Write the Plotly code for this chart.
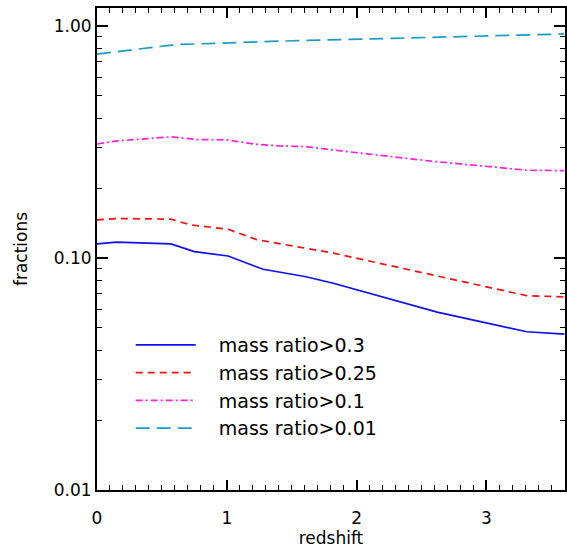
import plotly.graph_objects as go

# redshift / fraction values
z_03 = [0.0, 0.15, 0.57, 0.75, 1.01, 1.28, 1.61, 1.82, 2.62, 3.31, 3.6]
f_03 = [0.115, 0.117, 0.115, 0.1065, 0.102, 0.0894, 0.083, 0.0778, 0.0584, 0.0481, 0.047]

z_025 = [0.0, 0.15, 0.57, 0.72, 1.01, 1.23, 1.82, 2.62, 3.31, 3.6]
f_025 = [0.146, 0.148, 0.147, 0.139, 0.133, 0.120, 0.105, 0.0836, 0.0688, 0.068]

z_01 = [0.0, 0.14, 0.57, 0.77, 1.0, 1.21, 1.41, 1.61, 1.8, 2.56, 3.31, 3.6]
f_01 = [0.310, 0.319, 0.333, 0.324, 0.323, 0.310, 0.304, 0.302, 0.293, 0.262, 0.239, 0.238]

z_001 = [0.0, 0.31, 0.6, 0.9, 1.51, 2.28, 3.04, 3.6]
f_001 = [0.757, 0.794, 0.831, 0.842, 0.864, 0.885, 0.909, 0.924]

series = [
    ("mass ratio>0.3", z_03, f_03, "#1010f0", "solid"),
    ("mass ratio>0.25", z_025, f_025, "#ff1010", "7px,5px"),
    ("mass ratio>0.1", z_01, f_01, "#ff20e0", "7px,3px,2px,3px"),
    ("mass ratio>0.01", z_001, f_001, "#1a9cc4", "14px,7px"),
]

FONT = "DejaVu Sans"
PAD = "\u00a0\u00a0\u00a0"
fig = go.Figure()
for name, x, y, c, d in series:
    fig.add_trace(go.Scatter(x=x, y=y, mode="lines", name=PAD + name,
                             line=dict(color=c, width=1.7, dash=d)))

axis_common = dict(showline=True, linecolor="black", linewidth=2,
                   mirror="allticks", ticks="inside", tickcolor="black",
                   showgrid=False, zeroline=False,
                   tickfont=dict(family=FONT, size=17, color="black"))

fig.update_layout(
    width=567, height=548,
    margin=dict(l=97, r=0, t=8, b=58),
    plot_bgcolor="white", paper_bgcolor="white",
    font=dict(family=FONT, size=17, color="black"),
    xaxis=dict(range=[0, 3.605], tickvals=[0, 1, 2, 3], ticktext=["0", "1", "2", "3"],
               ticklen=10, tickwidth=1.5, ticklabelstandoff=12,
               minor=dict(ticks="inside", ticklen=5, dtick=0.1, tickcolor="black", tickwidth=1.2),
               title=dict(text="redshift", font=dict(family=FONT, size=17), standoff=8),
               **axis_common),
    yaxis=dict(type="log", range=[-2, 0.0776], tickvals=[0.01, 0.1, 1.0],
               ticktext=["0.01", "0.10", "1.00"], ticklen=11, tickwidth=1.5,
               minor=dict(ticks="inside", ticklen=5, dtick="D1", tickcolor="black", tickwidth=1.2),
               title=dict(text="fractions", font=dict(family=FONT, size=17), standoff=22),
               **axis_common),
    showlegend=True,
    legend=dict(x=0.072, y=0.34, xanchor="left", yanchor="top",
                bgcolor="rgba(0,0,0,0)", font=dict(family=FONT, size=19),
                itemwidth=60, tracegroupgap=0),
)

fig.write_html("out.html", config={"displayModeBar": False},
               post_script="document.body.style.margin='0';")
